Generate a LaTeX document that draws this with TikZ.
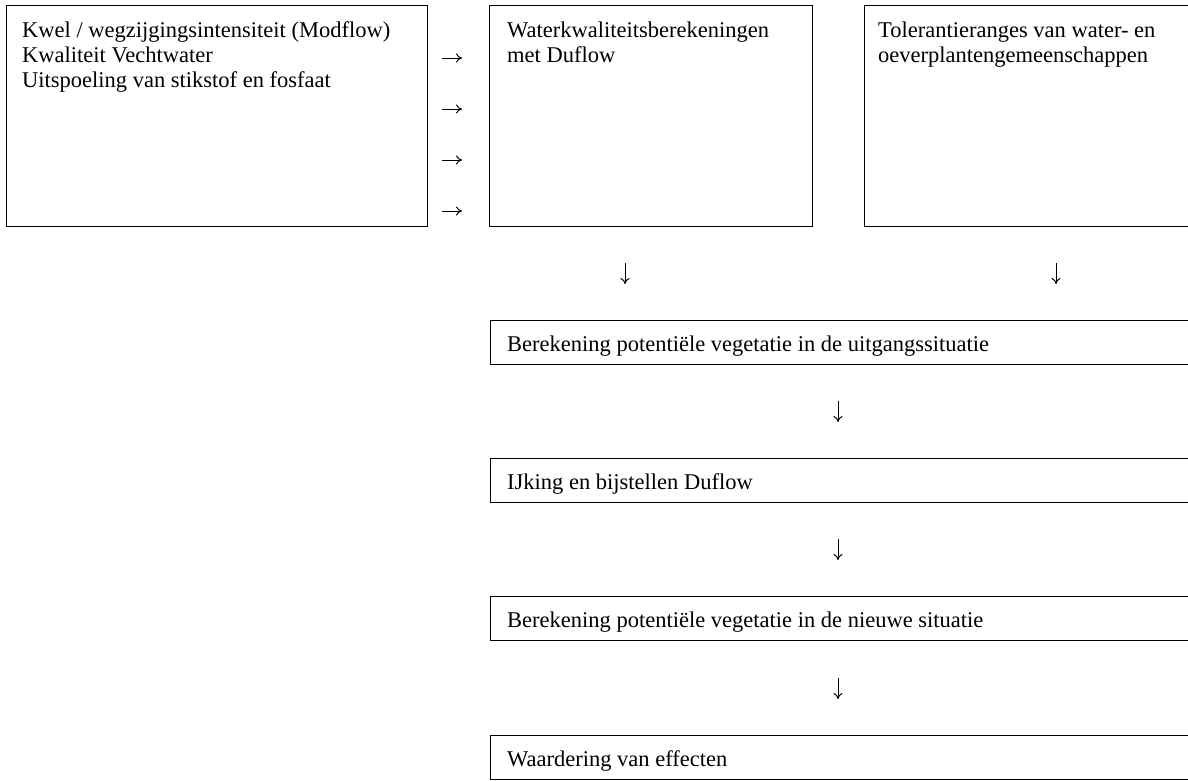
\documentclass[tikz,border=0pt]{standalone}
\usepackage{fontspec}
\setmainfont{Liberation Serif}
\usetikzlibrary{arrows.meta}
\begin{document}
\begin{tikzpicture}[x=1pt,y=1pt,
  box/.style={draw, line width=1.2pt, rectangle, inner sep=0pt, anchor=north west},
  txt/.style={anchor=base west, inner sep=0pt, font=\fontsize{22.5}{25}\selectfont},
  arr/.style={-{To[length=6pt,width=9pt]}, line width=1pt}]
\useasboundingbox (0,0) rectangle (1188,-780);
\clip (0,0) rectangle (1188,-780);
% top row boxes
\node[box, minimum width=421, minimum height=221] (b1) at (6,-5) {};
\node[box, minimum width=323, minimum height=221] (b2) at (489,-5) {};
\node[box, minimum width=335, minimum height=221] (b3) at (864,-5) {};
% lower boxes
\node[box, minimum width=710, minimum height=44] (bA) at (490,-320) {};
\node[box, minimum width=710, minimum height=44] (bB) at (490,-458) {};
\node[box, minimum width=710, minimum height=44] (bC) at (490,-596) {};
\node[box, minimum width=710, minimum height=44] (bD) at (490,-735) {};
% texts, top row
\node[txt] (t1a) at ([xshift=16pt,yshift=-32pt]b1.north west) {Kwel / wegzijgingsintensiteit (Modflow)};
\node[txt] (t1b) at ([yshift=-25pt]t1a.base west) {Kwaliteit Vechtwater};
\node[txt] (t1c) at ([yshift=-25pt]t1b.base west) {Uitspoeling van stikstof en fosfaat};
\node[txt] (t2a) at ([xshift=18pt,yshift=-32pt]b2.north west) {Waterkwaliteitsberekeningen};
\node[txt] (t2b) at ([yshift=-25pt]t2a.base west) {met Duflow};
\node[txt] (t3a) at ([xshift=14pt,yshift=-32pt]b3.north west) {Tolerantieranges van water- en};
\node[txt] (t3b) at ([yshift=-25pt]t3a.base west) {oeverplantengemeenschappen};
% texts, lower boxes
\node[txt] (tA) at ([xshift=17pt,yshift=-31pt]bA.north west) {Berekening potentiële vegetatie in de uitgangssituatie};
\node[txt] (tB) at ([xshift=17pt,yshift=-31pt]bB.north west) {IJking en bijstellen Duflow};
\node[txt] (tC) at ([xshift=17pt,yshift=-31pt]bC.north west) {Berekening potentiële vegetatie in de nieuwe situatie};
\node[txt] (tD) at ([xshift=17pt,yshift=-31pt]bD.north west) {Waardering van effecten};
% right arrows between box 1 and box 2
\foreach \i/\y in {1/-58,2/-109,3/-160,4/-211}{
  \coordinate (rs\i) at (442,\y);
  \coordinate (re\i) at (462,\y);
  \draw[arr] (rs\i) -- (re\i);
}
% down arrows
\coordinate (d1s) at (625,-263); \coordinate (d1e) at (625,-284);
\coordinate (d2s) at (1056,-263); \coordinate (d2e) at (1056,-284);
\coordinate (d3s) at (838,-401); \coordinate (d3e) at (838,-422);
\coordinate (d4s) at (838,-539); \coordinate (d4e) at (838,-560);
\coordinate (d5s) at (838,-678); \coordinate (d5e) at (838,-699);
\foreach \n in {1,...,5}{ \draw[arr] (d\n s) -- (d\n e); }
\end{tikzpicture}
\end{document}
